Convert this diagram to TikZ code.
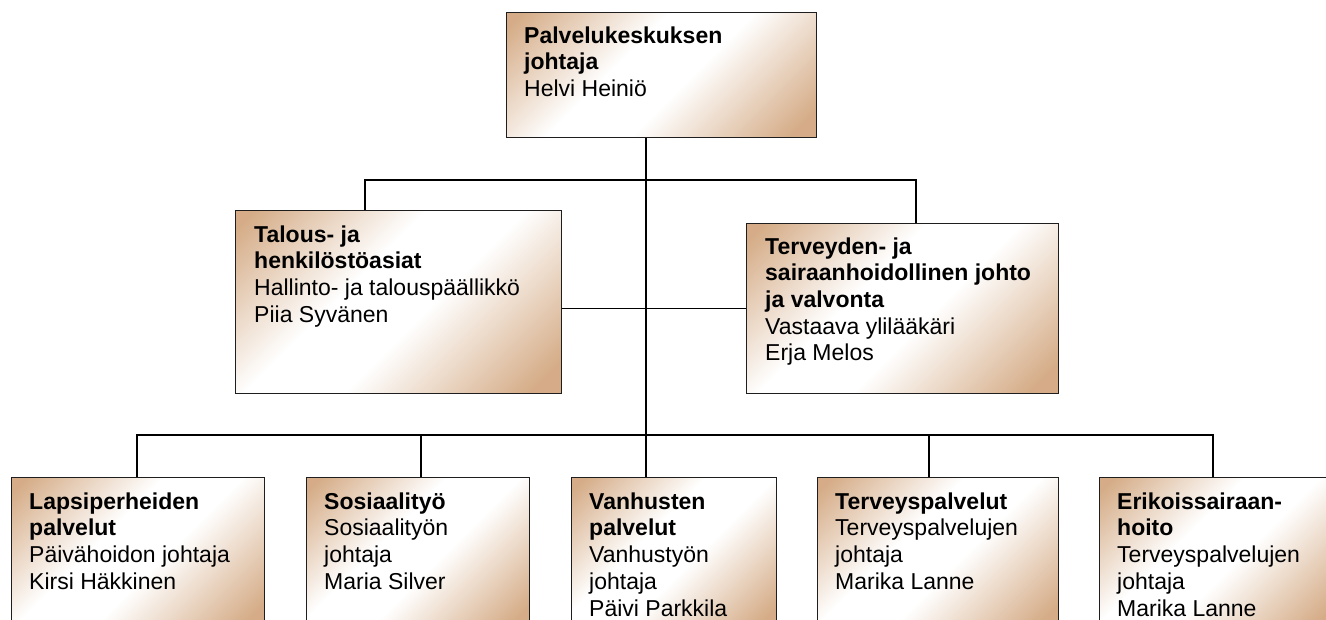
\documentclass[tikz,border=0pt]{standalone}
\usepackage{fontspec}
\setmainfont{Liberation Sans}
\definecolor{tanc}{RGB}{213,172,135}
\definecolor{edgec}{RGB}{30,30,30}
\pgfdeclarehorizontalshading{boxgrad}{100bp}{color(0bp)=(tanc); color(17bp)=(tanc); color(41bp)=(white); color(55bp)=(white); color(81bp)=(tanc); color(100bp)=(tanc)}
\newcommand{\firststrut}{\rule{0pt}{22pt}}
\begin{document}
\begin{tikzpicture}[x=1pt,y=-1pt,
  box/.style={draw=edgec, line width=1.4pt, shade, shading=boxgrad, shading angle=-45, rectangle, anchor=north west, inner sep=0pt},
  txt/.style={anchor=north west, align=left, inner sep=0pt, font=\fontsize{23}{26.7}\selectfont},
  conn/.style={draw=black, line width=1.3pt}]
\useasboundingbox (0,0) rectangle (1326,620);
\clip (0,0) rectangle (1326,620);

\coordinate (bus) at (646,435);
\coordinate (h1) at (646,180);

% boxes
\node[box, minimum width=310pt, minimum height=125pt] (b0) at (506,12) {};
\node[box, minimum width=326pt, minimum height=183pt] (bL) at (235,210) {};
\node[box, minimum width=312pt, minimum height=170pt] (bR) at (746,223) {};
\node[box, minimum width=253pt, minimum height=152pt] (b1) at (11,477) {};
\node[box, minimum width=223pt, minimum height=152pt] (b2) at (306,477) {};
\node[box, minimum width=205pt, minimum height=152pt] (b3) at (571,477) {};
\node[box, minimum width=241pt, minimum height=152pt] (b4) at (817,477) {};
\node[box, minimum width=235pt, minimum height=152pt] (b5) at (1099,477) {};

% connectors
\coordinate (p0) at ([xshift=140pt]b0.south west);
\draw[conn] (p0) -- (bus);
\draw[conn] ([xshift=130pt]bL.north west) |- (h1) -| ([xshift=170pt]bR.north west);
\draw[conn] (bR.west) -- (bR.west -| bL.east);
\draw[conn] ([xshift=126pt]b1.north west) |- (bus) -| ([xshift=114pt]b5.north west);
\coordinate (d2) at ([xshift=115pt]b2.north west);
\coordinate (d3) at ([xshift=75pt]b3.north west);
\coordinate (d4) at ([xshift=112pt]b4.north west);
\draw[conn] (d2) -- (d2 |- bus);
\draw[conn] (d3) -- (d3 |- bus);
\draw[conn] (d4) -- (d4 |- bus);

% texts (first baseline 31px below box top)
\node[txt] (t0) at ([xshift=18pt,yshift=-9pt]b0.north west) {\firststrut\textbf{Palvelukeskuksen}\\\textbf{johtaja}\\Helvi Heiniö};
\node[txt] (tL) at ([xshift=19pt,yshift=-10pt]bL.north west) {\firststrut\textbf{Talous- ja}\\\textbf{henkilöstöasiat}\\Hallinto- ja talouspäällikkö\\Piia Syvänen};
\node[txt] (tR) at ([xshift=19pt,yshift=-9pt]bR.north west) {\firststrut\textbf{Terveyden- ja}\\\textbf{sairaanhoidollinen johto}\\\textbf{ja valvonta}\\Vastaava ylilääkäri\\Erja Melos};
\node[txt] (t1) at ([xshift=18pt,yshift=-10pt]b1.north west) {\firststrut\textbf{Lapsiperheiden}\\\textbf{palvelut}\\Päivähoidon johtaja\\Kirsi Häkkinen};
\node[txt] (t2) at ([xshift=18pt,yshift=-10pt]b2.north west) {\firststrut\textbf{Sosiaalityö}\\Sosiaalityön\\johtaja\\Maria Silver};
\node[txt] (t3) at ([xshift=18pt,yshift=-10pt]b3.north west) {\firststrut\textbf{Vanhusten}\\\textbf{palvelut}\\Vanhustyön\\johtaja\\Päivi Parkkila};
\node[txt] (t4) at ([xshift=18pt,yshift=-10pt]b4.north west) {\firststrut\textbf{Terveyspalvelut}\\Terveyspalvelujen\\johtaja\\Marika Lanne};
\node[txt] (t5) at ([xshift=18pt,yshift=-10pt]b5.north west) {\firststrut\textbf{Erikoissairaan-}\\\textbf{hoito}\\Terveyspalvelujen\\johtaja\\Marika Lanne};
\end{tikzpicture}
\end{document}
